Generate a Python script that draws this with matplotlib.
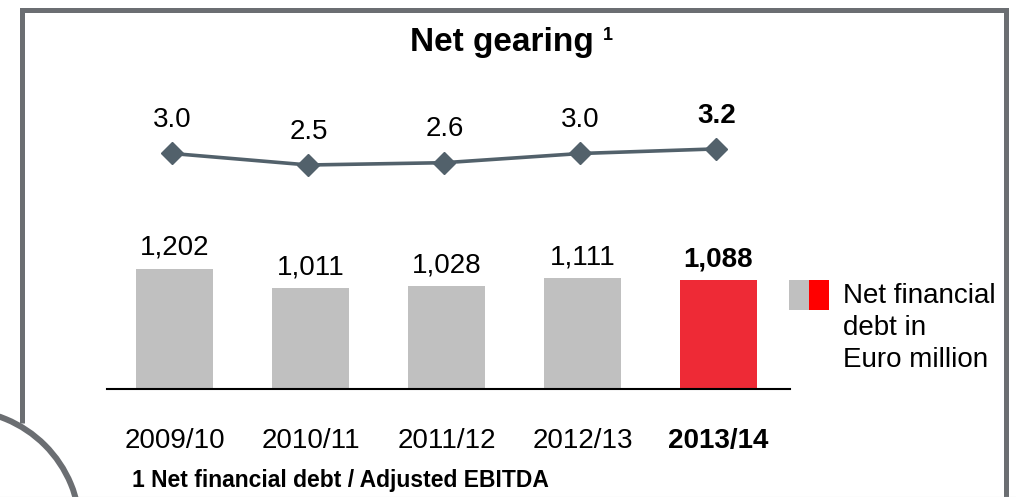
import numpy as np
import matplotlib
matplotlib.use("Agg")
import matplotlib.pyplot as plt
from matplotlib.patches import Rectangle, Arc

plt.rcParams['font.family'] = ['Liberation Sans', 'DejaVu Sans']

years = ["2009/10", "2010/11", "2011/12", "2012/13", "2013/14"]
net_debt = [1202, 1011, 1028, 1111, 1088]
debt_labels = ["1,202", "1,011", "1,028", "1,111", "1,088"]
gearing = [3.0, 2.5, 2.6, 3.0, 3.2]
gearing_labels = ["3.0", "2.5", "2.6", "3.0", "3.2"]

W, H = 1016, 497
fig = plt.figure(figsize=(W / 100, H / 100), dpi=100)

def px_axes(x0, y0, x1, y1):
    # pixel box (top-left origin) -> figure axes
    return fig.add_axes([x0 / W, (H - y1) / H, (x1 - x0) / W, (y1 - y0) / H])

# background: frame and arc, drawn in pixel coords
bg = fig.add_axes([0, 0, 1, 1])
bg.set_xlim(0, W)
bg.set_ylim(H, 0)
bg.axis("off")
frame_c = "#6b6e72"
bg.plot([21.5, 21.5, 1005.5, 1005.5], [423, 9.5, 9.5, 497], color=frame_c, lw=3.6,
        solid_joinstyle="miter", solid_capstyle="butt")
bg.plot([0, W], [496.5, 496.5], color="#d8d8d8", lw=0.8)
bg.add_patch(Arc((-40, 530), 240, 240, theta1=0, theta2=360, color=frame_c, lw=4.3))

x = np.arange(len(years))
xl = (-0.496, 4.526)

# bars
ax = px_axes(107, 230, 790, 389)
colors = ["#c0c0c0"] * 4 + ["#ee2a36"]
ax.bar(x, net_debt, width=0.566, color=colors)
ax.set_xlim(*xl)
ax.set_ylim(0, 1590)
for s in ["top", "right", "left"]:
    ax.spines[s].set_visible(False)
ax.spines["bottom"].set_linewidth(1.5)
ax.set_yticks([])
ax.set_xticks(x)
ax.set_xticklabels(years, fontsize=20)
ax.tick_params(axis="x", length=0, pad=28)
ax.get_xticklabels()[-1].set_fontweight("bold")
ax.patch.set_alpha(0)
for i, v in enumerate(net_debt):
    ax.annotate(debt_labels[i], (x[i], v), xytext=(0, 15), textcoords="offset points",
                ha="center", va="center", fontsize=20,
                fontweight="bold" if i == 4 else "normal")

# gearing line
ax2 = px_axes(107, 100, 790, 200)
ax2.plot(x - 0.015, gearing, color="#52616b", lw=2.6, marker="D", markersize=11)
ax2.set_xlim(*xl)
ax2.set_ylim(0.978, 5.326)
ax2.axis("off")
for i, v in enumerate(gearing):
    ax2.annotate(gearing_labels[i], (x[i] - 0.015, v), xytext=(0, 24), textcoords="offset points",
                 ha="center", va="center", fontsize=20,
                 fontweight="bold" if i == 4 else "normal")

# title
fig.text(502 / W, 1 - 43 / H, "Net gearing", ha="center", va="center",
         fontsize=24, fontweight="bold")
fig.text(608 / W, 1 - 35 / H, "1", ha="center", va="center", fontsize=13, fontweight="bold")

# legend
bg.add_patch(Rectangle((789, 280), 20, 30, color="#c0c0c0", lw=0))
bg.add_patch(Rectangle((809, 280), 20, 30, color="#ff0000", lw=0))
bg.text(843, 296, "Net financial", fontsize=20, va="center", ha="left")
bg.text(843, 328, "debt in", fontsize=20, va="center", ha="left")
bg.text(843, 360, "Euro million", fontsize=20, va="center", ha="left")

# footnote
bg.text(132, 481, "1 Net financial debt / Adjusted EBITDA", fontsize=16.5,
        fontweight="bold", va="center", ha="left")

fig.savefig("out.png", dpi=100)
